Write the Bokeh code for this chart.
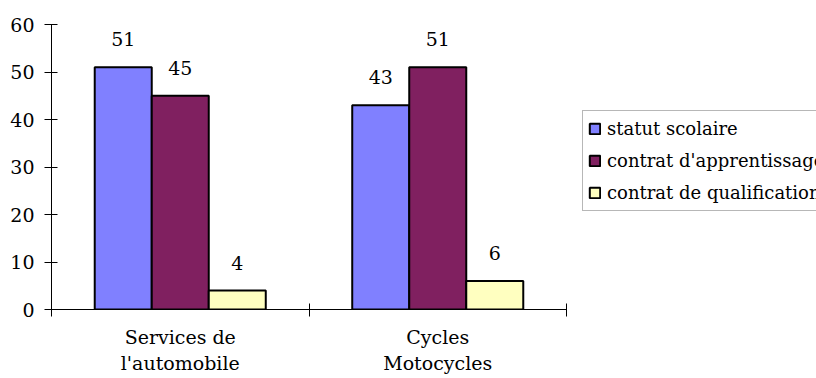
from bokeh.plotting import figure
from bokeh.models import (ColumnDataSource, LabelSet, Legend, LegendItem,
                          FixedTicker, Range1d)
from bokeh.core.properties import value
from bokeh.embed import file_html
from bokeh.resources import INLINE

# ---- data ----
categories = ["Services de\nl'automobile", "Cycles\nMotocycles"]
series_names = ["statut scolaire", "contrat d'apprentissage", "contrat de qualification"]
statut_scolaire = [51, 43]
contrat_apprentissage = [45, 51]
contrat_qualification = [4, 6]
y_ticks = [0, 10, 20, 30, 40, 50, 60]

series_values = [statut_scolaire, contrat_apprentissage, contrat_qualification]
colors = ["#8080FF", "#802060", "#FFFFC0"]
FONT = "DejaVu Serif"
FS = "19px"
FS_LEG = "18px"

n_cat = len(categories)
frame_w = 816 - 51
cat_px = 257.5
p = figure(width=816, height=378, output_backend="svg", toolbar_location=None,
           x_range=Range1d(0, n_cat * frame_w / (n_cat * cat_px)), y_range=Range1d(0, 60))
p.min_border_left = 51
p.min_border_right = 0
p.min_border_top = 24
p.min_border_bottom = 69
p.outline_line_color = None
p.xgrid.visible = False
p.ygrid.visible = False
p.background_fill_color = "white"
p.border_fill_color = "white"

bar_w = 0.2214
renderers = []
for j, vals in enumerate(series_values):
    xs = [i + 0.5 + (j - 1) * bar_w for i in range(n_cat)]
    src = ColumnDataSource(dict(x=xs, top=vals, lab=[str(v) for v in vals]))
    r = p.vbar(x="x", top="top", width=bar_w, bottom=0, source=src,
               fill_color=colors[j], line_color="black", line_width=2)
    renderers.append(r)
    p.add_layout(LabelSet(x="x", y="top", text="lab", source=src, y_offset=21,
                          text_align="center", text_baseline="alphabetic",
                          text_font=value(FONT), text_font_size=value(FS), text_color="black"))

# y axis
ya = p.yaxis[0]
ya.ticker = FixedTicker(ticks=y_ticks)
ya.major_tick_in = 6
ya.major_tick_out = 7
ya.minor_tick_line_color = None
ya.major_label_standoff = 10
ya.major_label_text_font = FONT
ya.major_label_text_font_size = FS
ya.major_label_text_color = "black"
ya.axis_line_color = "black"
ya.major_tick_line_color = "black"

# x axis: labels at category centres, tick marks at category boundaries
xa = p.xaxis[0]
centres = [i + 0.5 for i in range(n_cat)]
xa.ticker = FixedTicker(ticks=centres, minor_ticks=list(range(n_cat + 1)))
xa.bounds = (0, n_cat)
xa.major_label_overrides = {c: lab for c, lab in zip(centres, categories)}
xa.major_tick_line_color = None
xa.major_tick_in = 0
xa.major_tick_out = 7
xa.minor_tick_in = 6
xa.minor_tick_out = 7
xa.minor_tick_line_color = "black"
xa.major_label_standoff = 9
xa.major_label_text_font = FONT
xa.major_label_text_font_size = FS
xa.major_label_text_color = "black"
xa.major_label_text_line_height = 1.2
xa.axis_line_color = "black"

legend = Legend(items=[LegendItem(label=n, renderers=[r]) for n, r in zip(series_names, renderers)],
                location=(531, 98), orientation="vertical",
                label_text_font=FONT, label_text_font_size=FS_LEG, label_text_color="black",
                glyph_width=13, glyph_height=13, label_height=25, label_standoff=6,
                spacing=7, padding=5, margin=0,
                border_line_color="#707070", border_line_width=1.5,
                background_fill_color="white", background_fill_alpha=1)
p.add_layout(legend)

open("out.html", "w").write(file_html(p, INLINE))
